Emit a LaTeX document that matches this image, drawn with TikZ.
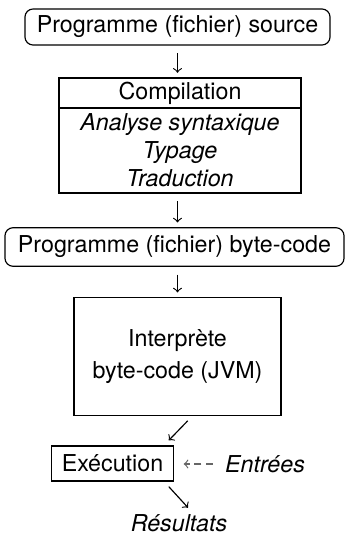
\documentclass[tikz,border=0pt]{standalone}
\usepackage{fontspec}
\setmainfont{TeX Gyre Heros}

\begin{document}
\begin{tikzpicture}[x=0.43pt,y=-0.43pt, line width=0.5pt,
    stage/.style={draw, inner sep=0pt, align=center},
    file/.style={stage, rounded corners=3.5pt},
    flow/.style={->, shorten <=3.3pt, shorten >=2pt},
    feed/.style={->, black!60, dash pattern=on 3pt off 2pt}]

  \useasboundingbox (0, 0) rectangle (346, 533);

  % Chain of the compiler: source, compilation, byte-code
  \node[file, minimum width=131.2pt, minimum height=15.5pt] (source) at (177.5, 27)
    {Programme (fichier) source};

  \node[stage, minimum width=104pt, minimum height=12.9pt] (comp) at (180, 93)
    {Compilation};
  \node[stage, minimum width=104pt, minimum height=36.6pt] (steps) at (180, 150.5)
    {\itshape Analyse syntaxique\\\itshape Typage\\\itshape Traduction};

  \node[file, minimum width=145.8pt, minimum height=16.6pt] (bytecode) at (174.5, 247)
    {Programme (fichier) byte-code};

  % Interpretation by the JVM
  \node[stage, minimum width=89pt, minimum height=50.7pt] (jvm) at (177.5, 356.6)
    {Interprète\\[1.8pt]byte-code (JVM)};

  \node[stage, minimum width=52.3pt, minimum height=15pt] (exec) at (112.5, 463.5)
    {Exécution};
  \node[inner sep=0pt, font=\itshape] (entrees) at (265, 464) {Entrées};
  \node[inner sep=0pt, font=\itshape] (resultats) at (179, 523) {Résultats};

  \draw[flow] (source.south) -- (source.south |- comp.north);
  \draw[flow] (source.south |- steps.south) -- (source.south |- bytecode.north);
  \draw[flow] (source.south |- bytecode.south) -- (source.south |- jvm.north);

  \draw[->] ([shift={(4.4pt,-2pt)}]jvm.south) -- ([shift={(-2.2pt,2.2pt)}]exec.north east);
  \draw[->] ([shift={(-2.2pt,-2.2pt)}]exec.south east) -- ([shift={(3.9pt,2.6pt)}]resultats.north);
  \draw[feed] ([xshift=-5pt]entrees.west) -- ([xshift=4.2pt]entrees.west -| exec.east);

\end{tikzpicture}
\end{document}
